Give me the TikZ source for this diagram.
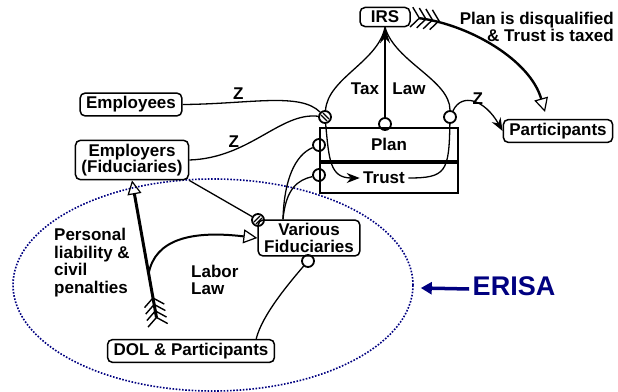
\documentclass[tikz,border=0pt]{standalone}
\usepackage{fontspec}
\setmainfont{Liberation Sans}
\usetikzlibrary{arrows.meta,shapes.geometric}
\definecolor{erisaazul}{RGB}{0,0,128}

\begin{document}
\begin{tikzpicture}[x=1pt,y=-1pt,
    font=\fontsize{17}{16.5}\selectfont\bfseries,
    caja/.style={draw, line width=1.5pt, rounded corners=5pt, fill=white,
        inner xsep=6pt, inner ysep=3.5pt, align=center},
    valvula/.style={draw, circle, line width=1.8pt, minimum size=12pt, inner sep=0pt},
    rayada/.style={path picture={
        \draw[line width=1.1pt] ([shift={(-4pt,2pt)}]path picture bounding box.center) -- ([shift={(2pt,-4pt)}]path picture bounding box.center);
        \draw[line width=1.1pt] ([shift={(-2pt,4pt)}]path picture bounding box.center) -- ([shift={(4pt,-2pt)}]path picture bounding box.center);}},
    barra/.style={path picture={
        \draw[line width=1.1pt] ([shift={(-4pt,-2pt)}]path picture bounding box.center) -- ([shift={(2pt,4pt)}]path picture bounding box.center);
        \draw[line width=1.1pt] ([shift={(-2pt,-4pt)}]path picture bounding box.center) -- ([shift={(4pt,2pt)}]path picture bounding box.center);}},
    flujo/.style={line width=1.3pt},
    pluma/.tip={Straight Barb[reversed,line width=1.4pt,length=8pt,width=20pt,sep=-3pt]
        Straight Barb[reversed,line width=1.4pt,length=8pt,width=20pt,sep=-3pt]
        Straight Barb[reversed,line width=1.4pt,length=8pt,width=20pt,sep=-3pt]
        Straight Barb[reversed,line width=1.4pt,length=8pt,width=20pt]},
    abierta/.tip={Triangle[open,line width=1.2pt,length=14pt,width=14pt]},
    punta/.tip={Stealth[length=13pt,width=10pt]},
    ]
\useasboundingbox (0,0) rectangle (618,391);

% zona ERISA (elipse punteada)
\node[ellipse, draw=erisaazul, line width=1.6pt, dash pattern=on 1.6pt off 1.6pt,
    minimum width=400pt, minimum height=212pt] (erisazona) at (213,285) {};

% Plan y Trust
\node[draw, line width=1.8pt, minimum width=138pt, minimum height=33pt] (plan) at (389,144.5) {Plan};
\node[draw, line width=1.8pt, minimum width=138pt, minimum height=32pt] (trust) at (389,177) {};
\draw[line width=3.5pt] (plan.south west) -- (plan.south east);
\node (trustlbl) at (384,178) {Trust};

% cajas
\node[caja, minimum width=50pt] (irs) at (385,17) {IRS};
\node[caja] (participantes) at (558,131) {Participants};
\node[caja] (empleados) at (131,104.5) {Employees};
\node[caja] (empleadores) at (132,160) {Employers\\(Fiduciaries)};
\node[caja] (fiduciarios) at (309,238) {Various\\Fiduciaries};
\node[caja] (dol) at (191,351) {DOL \& Participants};

% valvulas
\node[valvula, rayada] (vEmp) at (325,117) {};
\node[valvula] (vPlan) at (385,124) {};
\node[valvula] (vPart) at (450,117) {};
\node[valvula] (vF1) at (319,145) {};
\node[valvula] (vF2) at (319,175) {};
\node[valvula, barra] (vVF) at (258,220) {};
\node[valvula] (vDOL) at (308,261) {};

% textos
\node[align=right, anchor=north east, inner sep=0pt] (castigo) at (614,12) {Plan is disqualified\\\& Trust is taxed};
\node (tax) at (365,89) {Tax};
\node (law) at (409,89) {Law};
\node[align=left, anchor=north west, inner sep=0pt, font=\fontsize{17}{17.5}\selectfont\bfseries] (sanciones) at (54,228) {Personal\\liability \&\\civil\\penalties};
\node[align=left, anchor=north west, inner sep=0pt, font=\fontsize{17}{17.5}\selectfont\bfseries] (labor) at (191,264.5) {Labor\\Law};
\node[text=erisaazul, font=\fontsize{27}{30}\selectfont\bfseries] (erisa) at (514,286) {ERISA};

% flujos Z
\draw[flujo] (empleados.east) .. controls (250,104) and (300,92) .. (vEmp) node[pos=0.3, above=-1pt] {Z};
\draw[flujo] (empleadores.east) .. controls (250,158) and (280,112) .. (vEmp) node[pos=0.28, above=-1pt] {Z};
\draw[flujo, -{punta}] (vEmp) .. controls (329,160) and (330,178) .. (trustlbl.west);
\draw[flujo] (trustlbl.east) .. controls (446,178) and (449,172) .. (vPart);
\draw[flujo, -{punta}] (vPart) .. controls (462,92) and (485,100) .. (participantes.west) node[pos=0.5, above right=-6pt] {Z};

% Tax Law
\draw[flujo] (vEmp) .. controls (328,78) and (378,62) .. (irs.south);
\draw[flujo] (vPart) .. controls (450,80) and (395,62) .. (irs.south);
\draw[flujo, -{Stealth[length=16pt,width=10pt]}] (vPlan) -- (irs.south);

% IRS castiga
\coordinate (castigotip) at (545,112);
\draw[line width=2.4pt, {pluma}-{abierta}] (irs.east) .. controls (470,25) and (530,60) .. (castigotip);

% fiduciarios
\coordinate (vftop) at ([xshift=-26pt]fiduciarios.north);
\draw[flujo] (empleadores.south east) -- (vVF);
\draw[flujo] (vF1) .. controls (295,155) and (284,180) .. (vftop);
\draw[flujo] (vF2) .. controls (298,180) and (286,188) .. (vftop);
\draw[flujo] ([xshift=-19pt]dol.north east) .. controls (262,315) and (290,282) .. (vDOL);

% Labor Law
\coordinate (ley) at (158,326);
\draw[line width=3pt, {pluma}-{abierta}] (ley) -- coordinate[pos=0.36] (rama) (empleadores.south);
\draw[line width=2pt, -{abierta}] (rama) .. controls (155,240) and (190,230) .. (fiduciarios.west);

% ERISA
\draw[erisaazul, line width=3.5pt, -{Triangle[length=11pt,width=12pt]}] ([yshift=-3pt]erisa.west) -- ([xshift=7pt,yshift=-3pt]erisazona.east);
\end{tikzpicture}
\end{document}
